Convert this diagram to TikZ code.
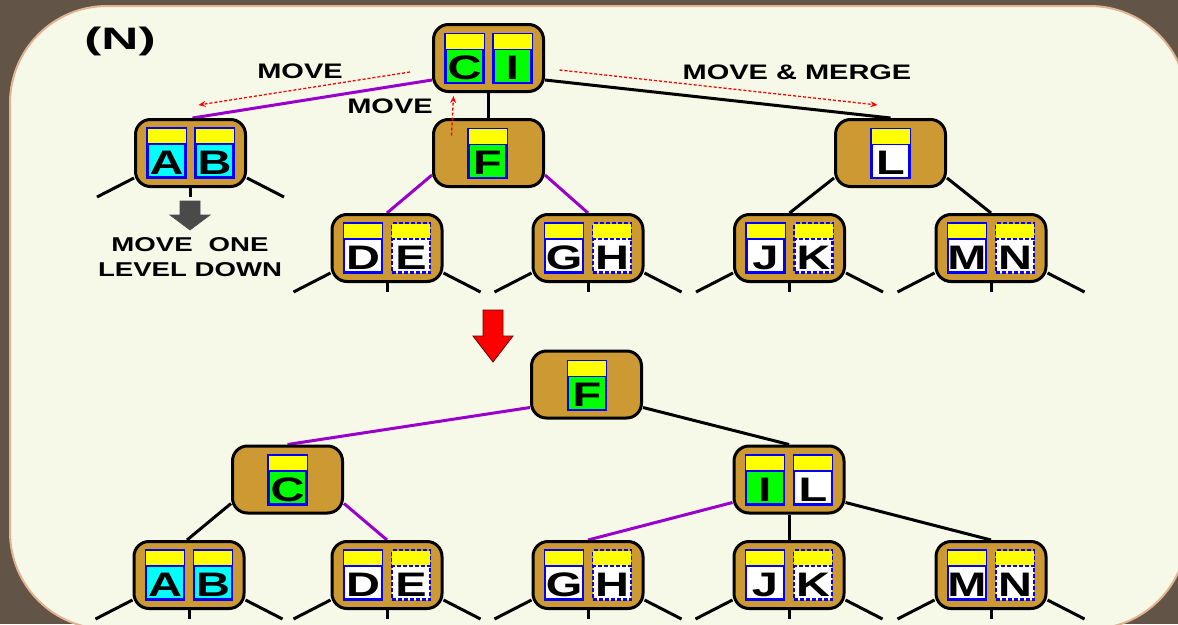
\documentclass[tikz,border=0pt]{standalone}
\usepackage{fontspec}
\setmainfont{Liberation Sans}
\newfontfamily\wide{Liberation Sans}[FakeStretch=1.38]
\usetikzlibrary{arrows.meta}

\definecolor{frame}{HTML}{625548}
\definecolor{paper}{HTML}{F7F9E8}
\definecolor{rim}{HTML}{E2B391}
\definecolor{gold}{HTML}{CC9933}
\definecolor{cellblue}{HTML}{0000FF}
\definecolor{keyyellow}{HTML}{FFFF00}
\definecolor{keygreen}{HTML}{00FF00}
\definecolor{keycyan}{HTML}{00FFFF}
\definecolor{linkpurple}{HTML}{9900CC}
\definecolor{arrowgray}{HTML}{4A4A4A}

\pgfdeclarelayer{back}
\pgfdeclarelayer{links}
\pgfsetlayers{back,links,main}

\tikzset{
  tnode/.style={rounded corners=15pt, fill=gold, draw=black, line width=3pt,
    minimum width=110pt, minimum height=67pt, inner sep=0pt},
  cellbox/.style={draw=cellblue, line width=2.2pt, minimum width=38pt,
    minimum height=49pt, inner sep=0pt},
  solidcell/.style={solid},
  dashcell/.style={dash pattern=on 4pt off 2pt},
  letter/.style={font=\wide\bfseries\fontsize{34}{34}\selectfont, inner sep=0pt, anchor=base},
  lbl/.style={font=\wide\bfseries\fontsize{21}{21}\selectfont, inner sep=0pt},
  link/.style={line width=3pt, black},
  plink/.style={line width=3pt, linkpurple},
  stub/.style={line width=3pt, black},
  hint/.style={red, line width=1.3pt, dash pattern=on 3pt off 2pt,
    -{Stealth[length=7pt, width=6pt]}},
}

% one key cell: name, position, fill colour, letter, border style
\newcommand\keyat[5]{%
  \node[cellbox, fill=#3, #5] (#1) at #2 {};
  \fill[keyyellow] ([xshift=1.1pt,yshift=-1.1pt]#1.north west)
    rectangle ([xshift=-1.1pt,yshift=-16.5pt]#1.north east);
  \draw[cellblue, line width=1.8pt, #5] ([yshift=-16.5pt]#1.north west) -- ([yshift=-16.5pt]#1.north east);
  \node[letter] (#1t) at ([yshift=4.5pt]#1.south) {#4};
}
% the three dangling child links under a node
\newcommand\stubs[1]{%
  \draw[stub] ([yshift=10pt]#1.south west) -- ++(-37,19);
  \draw[stub] (#1.south) -- ++(0,9);
  \draw[stub] ([yshift=10pt]#1.south east) -- ++(37,19);
}

\begin{document}
\begin{tikzpicture}[x=1pt, y=-1pt]
\useasboundingbox (0,0) rectangle (1178,624);
\begin{pgfonlayer}{back}
  \fill[frame] (0,0) rectangle (1178,624);
  \draw[rim, fill=paper, line width=2pt, rounded corners=97pt] (10,6) rectangle (1187,629);
\end{pgfonlayer}

% ---------- upper tree ----------
\node[tnode] (root) at (488.5,58) {};
\node[tnode] (ab1) at (190.5,153) {};
\node[tnode] (f1) at (488.5,153) {};
\node[tnode] (l1) at (890.5,153) {};
\node[tnode] (de1) at (387,248) {};
\node[tnode] (gh1) at (588,248) {};
\node[tnode] (jk1) at (789.5,248) {};
\node[tnode] (mn1) at (991,248) {};

\keyat{kC1}{(464.5,58.5)}{keygreen}{C}{solidcell}
\keyat{kI1}{(512.5,58.5)}{keygreen}{I}{solidcell}
\keyat{kA1}{(166.5,153)}{keycyan}{A}{solidcell}
\keyat{kB1}{(214.5,153)}{keycyan}{B}{solidcell}
\keyat{kF1}{(487.5,153.5)}{keygreen}{F}{solidcell}
\keyat{kL1}{(890.5,153.5)}{white}{L}{solidcell}
\keyat{kD1}{(363,248)}{white}{D}{solidcell}
\keyat{kE1}{(411,248)}{white}{E}{dashcell}
\keyat{kG1}{(564,248)}{white}{G}{solidcell}
\keyat{kH1}{(612,248)}{white}{H}{dashcell}
\keyat{kJ1}{(765.5,248)}{white}{J}{solidcell}
\keyat{kK1}{(813.5,248)}{white}{K}{dashcell}
\keyat{kM1}{(967,248)}{white}{M}{solidcell}
\keyat{kN1}{(1015,248)}{white}{N}{dashcell}

\begin{pgfonlayer}{links}
  \draw[plink] ([yshift=13pt]root.south west) -- ([xshift=2pt]ab1.north);
  \draw[link] (root.south) -- (f1.north);
  \draw[link] ([yshift=13pt]root.south east) -- (l1.north);
  \draw[plink] ([yshift=13pt]f1.south west) -- (de1.north);
  \draw[plink] ([yshift=13pt]f1.south east) -- (gh1.north);
  \draw[link] ([yshift=10pt]l1.south west) -- (jk1.north);
  \draw[link] ([yshift=10pt]l1.south east) -- (mn1.north);
  \stubs{ab1}
  \stubs{de1}
  \stubs{gh1}
  \stubs{jk1}
  \stubs{mn1}
\end{pgfonlayer}

% moves drawn as red hints
\draw[hint] ([xshift=-22pt,yshift=-14pt]root.west) -- ([xshift=8pt,yshift=13pt]ab1.north);
\draw[hint] ([xshift=19.5pt,yshift=-17.5pt]f1.north west) -- ([xshift=-35pt,yshift=-3pt]root.south);
\draw[hint] ([xshift=14.5pt,yshift=-12pt]root.east) -- ([xshift=-13pt,yshift=13pt]l1.north);

\node[font=\wide\bfseries\fontsize{31}{31}\selectfont, inner sep=0pt] (tag) at (120,41) {\scalebox{1.2}[1]{(N)}};
\node[lbl] (mv1) at (300,71) {MOVE};
\node[lbl] (mv2) at (390,106) {MOVE};
\node[lbl] (mv3) at (797,72) {MOVE \& MERGE};
\node[lbl, font=\wide\bfseries\fontsize{20}{20}\selectfont, align=center] (mv4) at (190,257)
  {MOVE\hspace{0.8em}ONE\\[5pt]LEVEL DOWN};

% shift arrows
\draw[fill=arrowgray, draw=black!70, line width=0.6pt]
  (180,201) -- (200,201) -- (200,215) -- (210,215) -- (190,230) -- (170,215) -- (180,215) -- cycle;
\draw[fill=red, draw=black!60!red, line width=0.8pt]
  (483,310) -- (503,310) -- (503,336) -- (513,336) -- (493,362) -- (473,336) -- (483,336) -- cycle;

% ---------- lower tree ----------
\node[tnode] (f2) at (586.5,384.5) {};
\node[tnode] (c2) at (287.5,479.5) {};
\node[tnode] (il2) at (789,479.5) {};
\node[tnode] (ab3) at (189,575) {};
\node[tnode] (de3) at (387,575) {};
\node[tnode] (gh3) at (588,575) {};
\node[tnode] (jk3) at (789,575) {};
\node[tnode] (mn3) at (991,575) {};

\keyat{kF2}{(587,385.5)}{keygreen}{F}{solidcell}
\keyat{kC2}{(287.5,480)}{keygreen}{C}{solidcell}
\keyat{kI2}{(765,480)}{keygreen}{I}{solidcell}
\keyat{kL2}{(813,480)}{white}{L}{solidcell}
\keyat{kA3}{(165,575)}{keycyan}{A}{solidcell}
\keyat{kB3}{(213,575)}{keycyan}{B}{solidcell}
\keyat{kD3}{(363,575)}{white}{D}{solidcell}
\keyat{kE3}{(411,575)}{white}{E}{dashcell}
\keyat{kG3}{(564,575)}{white}{G}{solidcell}
\keyat{kH3}{(612,575)}{white}{H}{dashcell}
\keyat{kJ3}{(765,575)}{white}{J}{solidcell}
\keyat{kK3}{(813,575)}{white}{K}{dashcell}
\keyat{kM3}{(967,575)}{white}{M}{solidcell}
\keyat{kN3}{(1015,575)}{white}{N}{dashcell}

\begin{pgfonlayer}{links}
  \draw[plink] ([yshift=12pt]f2.south west) -- (c2.north);
  \draw[link] ([yshift=12pt]f2.south east) -- (il2.north);
  \draw[link] ([yshift=11pt]c2.south west) -- ([xshift=-2pt]ab3.north);
  \draw[plink] ([yshift=11pt]c2.south east) -- (de3.north);
  \draw[plink] ([yshift=12pt]il2.south west) -- (gh3.north);
  \draw[link] (il2.south) -- (jk3.north);
  \draw[link] ([yshift=12pt]il2.south east) -- (mn3.north);
  \stubs{ab3}
  \stubs{de3}
  \stubs{gh3}
  \stubs{jk3}
  \stubs{mn3}
\end{pgfonlayer}
\end{tikzpicture}
\end{document}
